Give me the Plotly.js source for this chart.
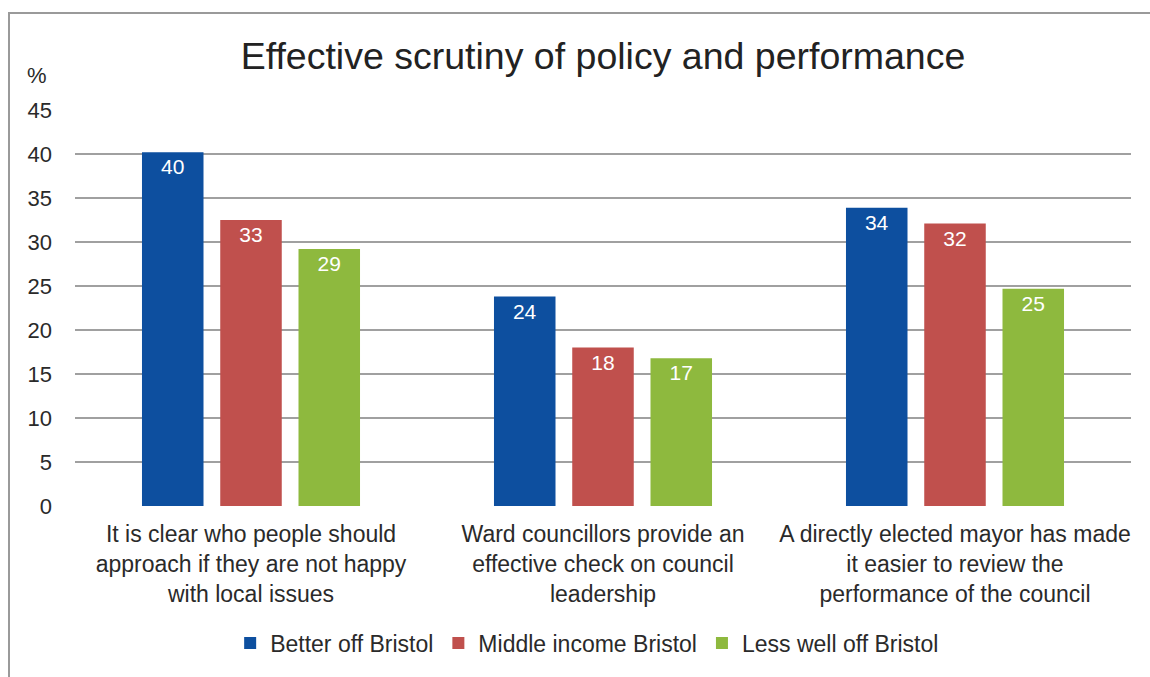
<!DOCTYPE html>
<html>
<head>
<meta charset="utf-8">
<script src="https://cdn.plot.ly/plotly-3.0.1.min.js"></script>
<style>
  html, body { margin: 0; padding: 0; background: #fff; }
  #wrap { position: relative; width: 1150px; height: 677px; overflow: hidden; }
  #frame { position: absolute; left: 8px; top: 12px; width: 1200px; height: 700px;
           border-left: 2px solid #9a9a9a; border-top: 2px solid #9a9a9a; pointer-events: none; }
  #chart { position: absolute; left: 0; top: 0; width: 1150px; height: 677px; }
</style>
</head>
<body>
<div id="wrap">
  <div id="chart"></div>
  <div id="frame"></div>
</div>
<script>
const categories = [
  "It is clear who people should<br>approach if they are not happy<br>with local issues",
  "Ward councillors provide an<br>effective check on council<br>leadership",
  "A directly elected mayor has made<br>it easier to review the<br>performance of the council"
];
const seriesNames = ["Better off Bristol", "Middle income Bristol", "Less well off Bristol"];
const betterOffVals = [40.2, 23.8, 33.9];
const middleIncomeVals = [32.5, 18.0, 32.1];
const lessWellOffVals = [29.2, 16.8, 24.7];
const betterOffLabels = ["40", "24", "34"];
const middleIncomeLabels = ["33", "18", "32"];
const lessWellOffLabels = ["29", "17", "25"];
const colors = ["#0D4F9F", "#C0504D", "#8EB93E"];
const yTicks = [0, 5, 10, 15, 20, 25, 30, 35, 40, 45];

const FONT = "Liberation Sans, Arial, Helvetica, sans-serif";

function mk(name, vals, labels, color) {
  return {
    type: "bar", name: name, x: categories, y: vals,
    text: labels, textposition: "inside", insidetextanchor: "end",
    textfont: { family: FONT, size: 21, color: "#ffffff" },
    constraintext: "none",
    marker: { color: color, line: { width: 0 } },
    hoverinfo: "skip"
  };
}

const data = [
  mk(seriesNames[0], betterOffVals, betterOffLabels, colors[0]),
  mk(seriesNames[1], middleIncomeVals, middleIncomeLabels, colors[1]),
  mk(seriesNames[2], lessWellOffVals, lessWellOffLabels, colors[2])
];

const layout = {
  width: 1150, height: 677,
  paper_bgcolor: "rgba(0,0,0,0)", plot_bgcolor: "rgba(0,0,0,0)",
  margin: { l: 75, r: 19, t: 110, b: 168, pad: 0 },
  font: { family: FONT, color: "#2a2a2a", size: 22 },
  title: { text: "Effective scrutiny of policy and performance",
           font: { family: FONT, size: 37.5, color: "#222222" },
           x: 0.5, xanchor: "center", y: 0.918, yanchor: "middle", xref: "paper", yref: "container" },
  barmode: "group", bargap: 0.333, bargroupgap: 0.214,
  xaxis: { type: "category", showgrid: false, zeroline: false, showline: false,
           ticks: "", tickfont: { family: FONT, size: 23, color: "#2a2a2a" },
           ticklabelstandoff: 12, automargin: false },
  yaxis: { range: [0, 45], tickvals: yTicks, showgrid: true, gridcolor: "#a0a0a0", gridwidth: 1.5,
           zeroline: false, showline: false, ticks: "",
           tickfont: { family: FONT, size: 22, color: "#2a2a2a" },
           ticklabelstandoff: 22, automargin: false, fixedrange: true },
  showlegend: true,
  legend: { orientation: "h", x: 0.485, xanchor: "center", y: -0.346, yanchor: "middle",
            font: { family: FONT, size: 23, color: "#2a2a2a" }, itemwidth: 30, bgcolor: "rgba(0,0,0,0)",
            traceorder: "normal" },
  annotations: [
    { text: "%", xref: "paper", yref: "paper", x: -0.025, y: 1.087, xanchor: "right", yanchor: "middle",
      showarrow: false, font: { family: FONT, size: 22, color: "#2a2a2a" } }
  ]
};

Plotly.newPlot("chart", data, layout, { displayModeBar: false, staticPlot: true });
</script>
</body>
</html>
